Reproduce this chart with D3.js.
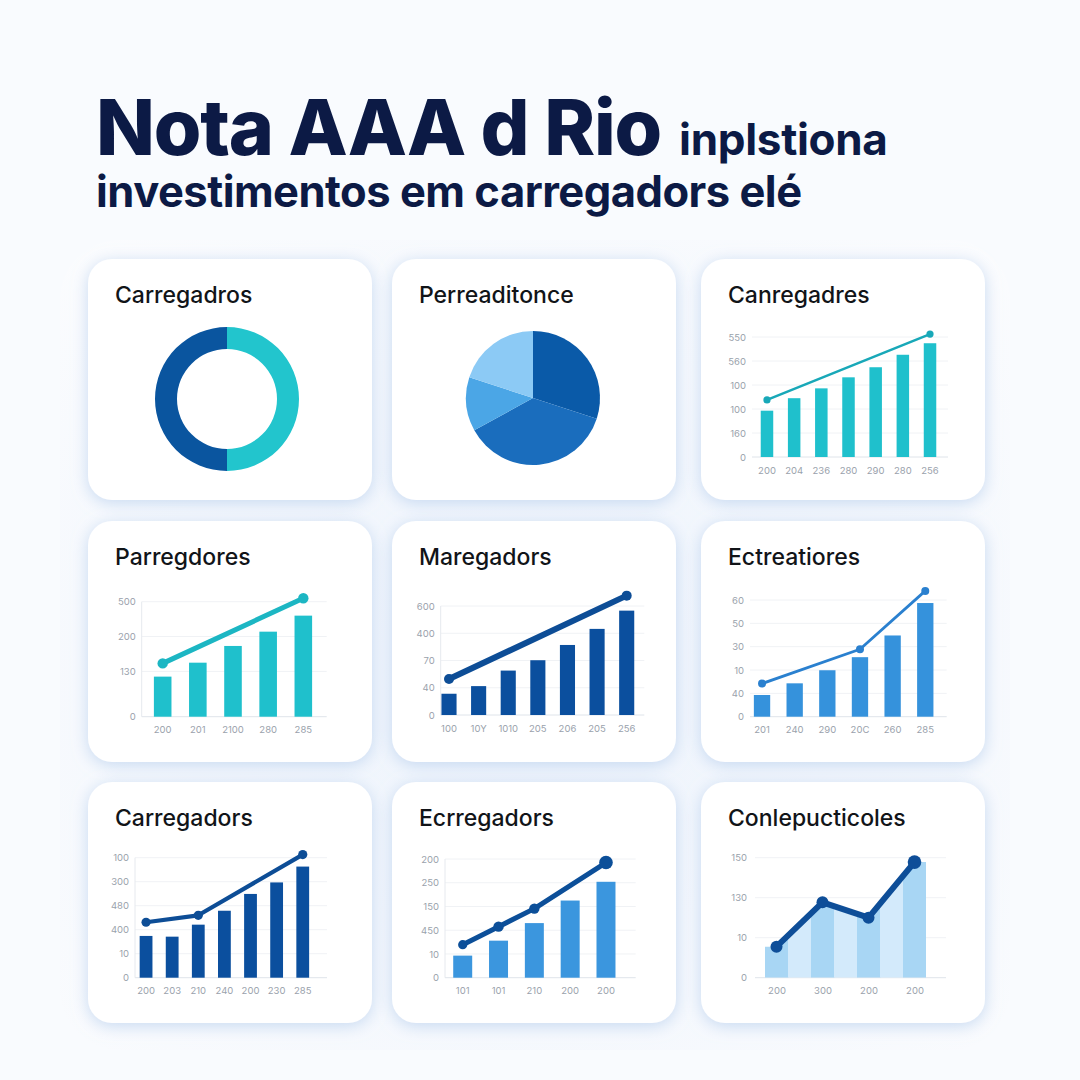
<!DOCTYPE html>
<html><head><meta charset="utf-8">
<script src="https://cdn.jsdelivr.net/npm/d3@7"></script>
<style>
html,body{margin:0;padding:0;background:#f8fafd;}
svg{display:block;}
text{font-family:Inter,"Noto Sans",sans-serif;}
</style></head>
<body>
<script>
// ---------- DATA ----------
const titleBig = "Nota AAA d Rio";
const titleSmall = "inplstiona";
const titleLine2 = "investimentos em carregadors elé";

const cardTitles = ["Carregadros","Perreaditonce","Canregadres",
                    "Parregdores","Maregadors","Ectreatiores",
                    "Carregadors","Ecrregadors","Conlepucticoles"];

// card 1: donut
const donutValues = [50, 50];
// card 2: pie
const pieValues = [30, 37, 13, 20];

// card 3
const c3XLabels = ["200","204","236","280","290","280","256"];
const c3YLabels = ["0","160","100","100","560","550"];
const c3Bars = [1.93, 2.45, 2.86, 3.32, 3.74, 4.26, 4.74];
const c3LinePos = [0, 6];
const c3LineVals = [2.38, 5.12];

// card 4
const c4XLabels = ["200","201","2100","280","285"];
const c4YTickVals = [0, 130, 230, 330];
const c4YLabels = ["0","130","200","500"];
const c4Bars = [115, 155, 203, 244, 290];
const c4LinePos = [0, 4];
const c4LineVals = [153, 340];

// card 5
const c5XLabels = ["100","10Y","1010","205","206","205","256"];
const c5YLabels = ["0","40","70","400","600"];
const c5Bars = [0.78, 1.06, 1.63, 2.01, 2.57, 3.16, 3.83];
const c5LinePos = [0, 6];
const c5LineVals = [1.32, 4.38];

// card 6
const c6XLabels = ["201","240","290","20C","260","285"];
const c6YLabels = ["0","40","10","30","50","60"];
const c6Bars = [0.93, 1.43, 1.99, 2.55, 3.48, 4.87];
const c6LinePos = [0, 3, 5];
const c6LineVals = [1.42, 2.89, 5.39];

// card 7
const c7XLabels = ["200","203","210","240","200","230","285"];
const c7YLabels = ["0","10","400","480","300","100"];
const c7Bars = [1.74, 1.71, 2.21, 2.79, 3.49, 3.97, 4.63];
const c7LinePos = [0, 2, 6];
const c7LineVals = [2.31, 2.60, 5.13];

// card 8
const c8XLabels = ["101","101","210","200","200"];
const c8YLabels = ["0","10","450","150","250","200"];
const c8Bars = [0.93, 1.56, 2.30, 3.25, 4.04];
const c8LinePos = [0, 1, 2, 4];
const c8LineVals = [1.39, 2.15, 2.91, 4.85];

// card 9
const c9XLabels = ["200","300","200","200"];
const c9YLabels = ["0","10","130","150"];
const c9LineVals = [0.775, 1.885, 1.50, 2.89];

// ---------- LAYOUT / STYLE ----------
const W = 1080, H = 1080;
const cardX = [88, 392, 701], cardY = [259, 521, 782];
const cardW = 284, cardH = 241;

const svg = d3.select("body").append("svg").attr("width", W).attr("height", H);
const defs = svg.append("defs");
const grad = defs.append("radialGradient").attr("id","bg").attr("cx","50%").attr("cy","55%").attr("r","75%");
grad.append("stop").attr("offset","0%").attr("stop-color","#edf3fc");
grad.append("stop").attr("offset","100%").attr("stop-color","#fbfcfe");
svg.append("rect").attr("width",W).attr("height",H).attr("fill","#f9fbfe");
svg.append("rect").attr("x",60).attr("y",240).attr("width",950).attr("height",810).attr("fill","url(#bg)").attr("rx",60);

const f = defs.append("filter").attr("id","sh").attr("x","-20%").attr("y","-20%").attr("width","140%").attr("height","140%");
f.append("feDropShadow").attr("dx",0).attr("dy",3).attr("stdDeviation",8).attr("flood-color","#bcd2ee").attr("flood-opacity",0.8);

// Title
const t1 = svg.append("text").attr("x",96).attr("y",155).attr("fill","#0c1a45");
t1.append("tspan").text(titleBig).attr("font-size",77).attr("font-weight",800).attr("letter-spacing",-1.2);
t1.append("tspan").text(titleSmall).attr("dx",18).attr("font-size",44).attr("font-weight",700).attr("letter-spacing",-0.3);
svg.append("text").attr("x",96).attr("y",207).attr("fill","#0c1a45")
  .attr("font-size",43.5).attr("font-weight",700).attr("letter-spacing",-0.5).text(titleLine2);

// Cards
const cards = [];
cardY.forEach((cy, r) => cardX.forEach((cx, c) => {
  const g = svg.append("g").attr("transform", `translate(${cx},${cy})`);
  g.append("rect").attr("width",cardW).attr("height",cardH).attr("rx",24).attr("fill","#ffffff").attr("filter","url(#sh)");
  g.append("text").attr("x",27).attr("y",44).attr("font-size",23).attr("font-weight",500)
    .attr("fill","#111418").attr("letter-spacing",0).text(cardTitles[r*3+c]);
  cards.push(g);
}));

// Card 1 donut
{
  const g = cards[0].append("g").attr("transform","translate(139,140)");
  const colors = ["#22c5cd", "#0a559f"];
  g.selectAll("path").data(d3.pie().sort(null)(donutValues)).join("path")
    .attr("d", d3.arc().innerRadius(50).outerRadius(72))
    .attr("fill", (d,i) => colors[i]);
}
// Card 2 pie
{
  const g = cards[1].append("g").attr("transform","translate(141,139)");
  const colors = ["#0a5aa8", "#1a6dbd", "#4ba6e6", "#8ccaf5"];
  g.selectAll("path").data(d3.pie().sort(null)(pieValues)).join("path")
    .attr("d", d3.arc().innerRadius(0).outerRadius(67))
    .attr("fill", (d,i) => colors[i]);
}

function barChart(g, o) {
  const n = o.bars.length;
  const y = d3.scaleLinear().domain(o.yDomain).range([o.bottom, o.top]);
  const x = d3.scaleBand().domain(d3.range(n)).range(o.xRange).paddingInner(o.pad).paddingOuter(o.pad/2);
  g.append("g").selectAll("line").data(o.yTicks).join("line")
    .attr("x1", o.left).attr("x2", o.right).attr("y1", d=>y(d)).attr("y2", d=>y(d))
    .attr("stroke", (d,i) => i===0 ? "#dfe4ea" : "#f0f2f5").attr("stroke-width",1);
  if (o.axis) g.append("line").attr("x1",o.left).attr("x2",o.left).attr("y1",y(o.yTicks[o.yTicks.length-1])).attr("y2",o.bottom)
    .attr("stroke","#e6e9ee");
  const ya = d3.axisLeft(y).tickValues(o.yTicks).tickFormat((d,i)=>o.yLabels[i]).tickSize(0).tickPadding(6);
  const yg = g.append("g").attr("transform",`translate(${o.left},0)`).call(ya);
  yg.select(".domain").remove();
  yg.selectAll("text").attr("font-size",9.5).attr("fill","#9aa2ac").attr("font-family","Inter,sans-serif");
  const xa = d3.axisBottom(x).tickFormat(i=>o.xLabels[i]).tickSize(0).tickPadding(10);
  const xg = g.append("g").attr("transform",`translate(0,${o.bottom})`).call(xa);
  xg.select(".domain").remove();
  xg.selectAll("text").attr("font-size",9.5).attr("fill","#9aa2ac").attr("font-family","Inter,sans-serif");
  g.append("g").selectAll("rect").data(o.bars).join("rect")
    .attr("x",(d,i)=>x(i)).attr("width",x.bandwidth())
    .attr("y",d=>y(d)).attr("height",d=>o.bottom-y(d)).attr("fill",o.barColor);
  const pts = o.linePos.map((p,i)=>[x(p)+x.bandwidth()/2, y(o.lineVals[i])]);
  g.append("path").attr("d", d3.line()(pts)).attr("fill","none")
    .attr("stroke",o.lineColor).attr("stroke-width",o.lineW).attr("stroke-linecap","round").attr("stroke-linejoin","round");
  g.append("g").selectAll("circle").data(pts).join("circle")
    .attr("cx",d=>d[0]).attr("cy",d=>d[1]).attr("r",(d,i)=>o.dotR[i] ?? o.dotR[0]).attr("fill",o.lineColor);
}

barChart(cards[2], {bars:c3Bars, xLabels:c3XLabels, yLabels:c3YLabels, yTicks:d3.range(6), yDomain:[0,5],
  left:51, right:247, top:78, bottom:198, xRange:[52.4,242.6], pad:0.54,
  barColor:"#1fc0cc", lineColor:"#18a8b8", lineW:2.5, dotR:[3.6], linePos:c3LinePos, lineVals:c3LineVals});

barChart(cards[3], {bars:c4Bars, xLabels:c4XLabels, yLabels:c4YLabels, yTicks:c4YTickVals, yDomain:[0,330],
  left:53.7, right:238.7, top:80.7, bottom:195.7, xRange:[57.1,232.9], pad:0.5, axis:true,
  barColor:"#1fc0cc", lineColor:"#1cb6c3", lineW:5, dotR:[5.2], linePos:c4LinePos, lineVals:c4LineVals});

barChart(cards[4], {bars:c5Bars, xLabels:c5XLabels, yLabels:c5YLabels, yTicks:d3.range(5), yDomain:[0,4],
  left:48.7, right:252.3, top:85, bottom:194, xRange:[42.2,249.5], pad:0.49, axis:true,
  barColor:"#0b4f9e", lineColor:"#0d4d96", lineW:6, dotR:[5], linePos:c5LinePos, lineVals:c5LineVals});

barChart(cards[5], {bars:c6Bars, xLabels:c6XLabels, yLabels:c6YLabels, yTicks:d3.range(6), yDomain:[0,5],
  left:49, right:245.7, top:79, bottom:195.7, xRange:[44.7,240.6], pad:0.5,
  barColor:"#3592dc", lineColor:"#2a80cf", lineW:2.8, dotR:[4], linePos:c6LinePos, lineVals:c6LineVals});

barChart(cards[6], {bars:c7Bars, xLabels:c7XLabels, yLabels:c7YLabels, yTicks:d3.range(6), yDomain:[0,5],
  left:47, right:239, top:75.7, bottom:195.7, xRange:[45,227.8], pad:0.51, axis:true,
  barColor:"#0b4f9e", lineColor:"#0d4d96", lineW:4.2, dotR:[4.6], linePos:c7LinePos, lineVals:c7LineVals});

barChart(cards[7], {bars:c8Bars, xLabels:c8XLabels, yLabels:c8YLabels, yTicks:d3.range(6), yDomain:[0,5],
  left:53, right:243.7, top:77, bottom:195.7, xRange:[52.8,231.9], pad:0.47, axis:true,
  barColor:"#3b96de", lineColor:"#0c4f99", lineW:5, dotR:[4.6,5.2,5.2,6.8], linePos:c8LinePos, lineVals:c8LineVals});

// Card 9 area chart with banded shading
{
  const g = cards[8];
  const top = 75.7, bottom = 195.7, left = 54, right = 245;
  const y = d3.scaleLinear().domain([0,3]).range([bottom, top]);
  const nb = c9LineVals.length*2 - 1;
  const xb = d3.scaleBand().domain(d3.range(nb)).range([64,225]);
  const cx = i => xb(i*2) + xb.bandwidth()/2;
  g.append("g").selectAll("line").data(d3.range(4)).join("line")
    .attr("x1",left).attr("x2",right).attr("y1",d=>y(d)).attr("y2",d=>y(d))
    .attr("stroke",(d,i)=> i===0 ? "#dfe4ea" : "#f0f2f5");
  const ya = d3.axisLeft(y).tickValues(d3.range(4)).tickFormat((d,i)=>c9YLabels[i]).tickSize(0).tickPadding(8);
  const yg = g.append("g").attr("transform",`translate(${left},0)`).call(ya);
  yg.select(".domain").remove();
  yg.selectAll("text").attr("font-size",9.5).attr("fill","#9aa2ac").attr("font-family","Inter,sans-serif");
  const xp = d3.scalePoint().domain(d3.range(c9XLabels.length)).range([cx(0), cx(c9XLabels.length-1)]);
  const xa = d3.axisBottom(xp).tickFormat(i=>c9XLabels[i]).tickSize(0).tickPadding(10);
  const xg = g.append("g").attr("transform",`translate(0,${bottom})`).call(xa);
  xg.select(".domain").remove();
  xg.selectAll("text").attr("font-size",9.5).attr("fill","#9aa2ac").attr("font-family","Inter,sans-serif");
  const pts = c9LineVals.map((v,i)=>[cx(i), y(v)]);
  const areaPts = [[xb(0), y(c9LineVals[0])], ...pts, [xb(nb-1)+xb.bandwidth(), y(c9LineVals[c9LineVals.length-1])]];
  const clip = defs.append("clipPath").attr("id","c9clip");
  clip.append("path").attr("d", d3.area().x(d=>d[0]).y0(bottom).y1(d=>d[1])(areaPts));
  g.append("g").attr("clip-path","url(#c9clip)").selectAll("rect").data(d3.range(nb)).join("rect")
    .attr("x",d=>xb(d)).attr("width",xb.bandwidth()+0.5).attr("y",top-20).attr("height",bottom-top+20)
    .attr("fill",d=> d%2===0 ? "#a8d6f4" : "#d3eafb");
  g.append("path").attr("d", d3.line()(pts)).attr("fill","none").attr("stroke","#0e4e98")
    .attr("stroke-width",6).attr("stroke-linejoin","round").attr("stroke-linecap","round");
  g.append("g").selectAll("circle").data(pts).join("circle")
    .attr("cx",d=>d[0]).attr("cy",d=>d[1]).attr("r",(d,i)=> i===pts.length-1 ? 6.8 : 6).attr("fill","#0e4e98");
}
</script>
</body></html>
